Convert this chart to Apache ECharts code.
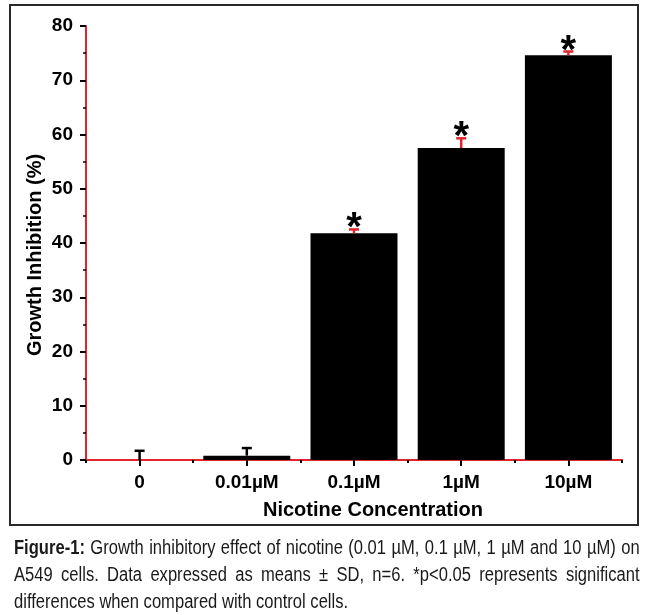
<!DOCTYPE html>
<html>
<head>
<meta charset="utf-8">
<script src="https://cdn.jsdelivr.net/npm/echarts@6/dist/echarts.min.js"></script>
<style>
  html, body { margin: 0; padding: 0; background: #fff; }
  #wrap { position: relative; width: 650px; height: 615px; }
  #chart { position: absolute; left: 0; top: 0; width: 650px; height: 615px; }
  #caption {
    position: absolute; left: 14px; top: 534px; width: 736px;
    transform: scaleX(0.85); transform-origin: 0 0;
    font-family: "Liberation Sans", Arial, sans-serif; font-size: 19.5px;
    line-height: 27px; color: #1a1a1a;
  }
  #caption div { white-space: nowrap; }
  #caption .j { text-align: justify; text-align-last: justify; }
  #caption .l { text-align: left; }
</style>
</head>
<body>
<div id="wrap">
  <div id="chart"></div>
  <div id="caption">
    <div class="j"><b>Figure-1:</b> Growth inhibitory effect of nicotine (0.01 µM, 0.1 µM, 1 µM and 10 µM) on</div>
    <div class="j">A549 cells. Data expressed as means ± SD, n=6. *p&lt;0.05 represents significant</div>
    <div class="l">differences when compared with control cells.</div>
  </div>
</div>
<script>
var categories = ['0', '0.01\u00b5M', '0.1\u00b5M', '1\u00b5M', '10\u00b5M'];
var inhibition = [0, 0.8, 41.8, 57.5, 74.6];
var sdValues = [1.7, 1.4, 0.7, 1.8, 0.7];
var significance = ['', '', '*', '*', '*'];
var yTicks = [0, 10, 20, 30, 40, 50, 60, 70, 80];

var RED = '#e3242b';
var FONT = '"Liberation Sans", Arial, sans-serif';

var errData = inhibition.map(function (v, i) { return [i, v, sdValues[i]]; });

var chart = echarts.init(document.getElementById('chart'));
chart.setOption({
  animation: false,
  backgroundColor: '#fff',
  grid: { left: 86, right: 28, top: 26, bottom: 155, containLabel: false },
  graphic: [{
    type: 'rect', shape: { x: 10, y: 5, width: 628, height: 520 },
    style: { fill: 'none', stroke: '#2a2a2a', lineWidth: 2 }, z: -1
  }],
  xAxis: [{
    type: 'category', data: categories, position: 'bottom',
    axisLine: { show: true, lineStyle: { color: RED, width: 2 } },
    axisTick: { show: true, alignWithLabel: true, length: 6, lineStyle: { color: '#000', width: 2 } },
    axisLabel: { color: '#000', fontWeight: 'bold', fontSize: 19, fontFamily: FONT, margin: 13 },
    name: 'Nicotine Concentration', nameLocation: 'middle', nameGap: 40, nameMoveOverlap: false,
    nameTextStyle: { color: '#000', fontWeight: 'bold', fontSize: 20, fontFamily: FONT, padding: [0, 0, 0, 38] },
    splitLine: { show: false }
  }, {
    type: 'category', data: categories, position: 'bottom',
    axisLine: { show: false },
    axisTick: { show: true, alignWithLabel: false, length: 3, lineStyle: { color: '#000', width: 2 } },
    axisLabel: { show: false },
    splitLine: { show: false }
  }],
  yAxis: {
    type: 'value', min: yTicks[0], max: yTicks[yTicks.length - 1], interval: 10,
    axisLine: { show: true, lineStyle: { color: RED, width: 2 } },
    axisTick: { show: true, length: 6, lineStyle: { color: '#000', width: 2 } },
    minorTick: { show: true, splitNumber: 2, length: 3, lineStyle: { color: '#000', width: 1.5 } },
    axisLabel: { color: '#000', fontWeight: 'bold', fontSize: 19, fontFamily: FONT, margin: 13 },
    splitLine: { show: false },
    name: 'Growth Inhibition (%)', nameLocation: 'middle', nameGap: 41, nameMoveOverlap: false,
    nameTextStyle: { color: '#000', fontWeight: 'bold', fontSize: 20, fontFamily: FONT, padding: [0, 24, 0, 0] }
  },
  series: [{
    type: 'bar', data: inhibition, barWidth: 87,
    itemStyle: { color: '#000' }, z: 2
  }, {
    type: 'custom', data: errData, z: 5,
    renderItem: function (params, api) {
      var i = api.value(0), v = api.value(1), e = api.value(2);
      var sig = significance[params.dataIndex];
      var base = api.coord([i, v]);
      var top = api.coord([i, v + e]);
      var color = params.dataIndex < 2 ? '#000' : RED;
      var children = [
        { type: 'line', shape: { x1: base[0], y1: base[1], x2: top[0], y2: top[1] }, style: { stroke: color, lineWidth: 2.5 } },
        { type: 'line', shape: { x1: top[0] - 5, y1: top[1], x2: top[0] + 5, y2: top[1] }, style: { stroke: color, lineWidth: 2.5 } }
      ];
      if (sig) {
        children.push({
          type: 'text', x: top[0], y: top[1] - 20,
          style: { text: sig, fill: '#000', font: 'bold 40px ' + FONT, textAlign: 'center', textVerticalAlign: 'top' }
        });
      }
      return { type: 'group', children: children };
    }
  }]
});
</script>
</body>
</html>
